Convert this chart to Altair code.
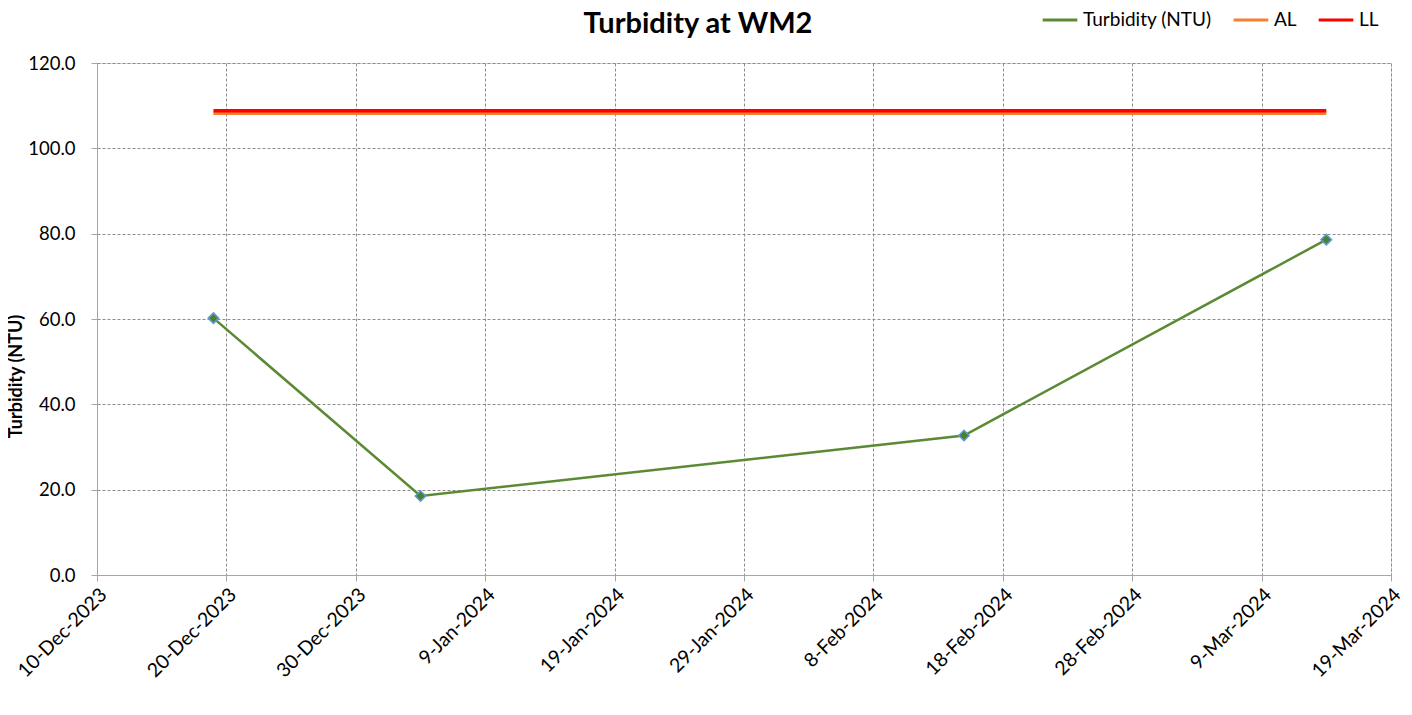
import altair as alt
import pandas as pd

# Data
dates = ["2023-12-19T00:00:00", "2024-01-04T00:00:00", "2024-02-15T00:00:00", "2024-03-14T00:00:00"]
turbidity = [60.2, 18.5, 32.7, 78.6]
limit_dates = ["2023-12-19T00:00:00", "2024-03-14T00:00:00"]
al_values = [108.2, 108.2]
ll_values = [108.8, 108.8]
tick_dates = [(2023, 12, 10), (2023, 12, 20), (2023, 12, 30), (2024, 1, 9), (2024, 1, 19),
              (2024, 1, 29), (2024, 2, 8), (2024, 2, 18), (2024, 2, 28), (2024, 3, 9), (2024, 3, 19)]
y_ticks = [0, 20, 40, 60, 80, 100, 120]
series_names = ["Turbidity (NTU)", "AL", "LL"]
series_colors = ["#5A8A34", "#F58030", "#FF0000"]

rows = []
for d, v in zip(dates, turbidity):
    rows.append({"date": d, "value": v, "series": "Turbidity (NTU)"})
for d, v in zip(limit_dates, al_values):
    rows.append({"date": d, "value": v, "series": "AL"})
for d, v in zip(limit_dates, ll_values):
    rows.append({"date": d, "value": v, "series": "LL"})
df = pd.DataFrame(rows)

FONT = "Lato"
tick_dt = [alt.DateTime(year=y, month=m, date=d) for (y, m, d) in tick_dates]

x_enc = alt.X(
    "date:T",
    scale=alt.Scale(domain=[tick_dt[0], tick_dt[-1]]),
    axis=alt.Axis(
        values=tick_dt, format="%-d-%b-%Y", labelAngle=-45, title=None,
        labelFontSize=19.5, labelFont=FONT, labelColor="#000000",
        grid=True, gridDash=[3, 2], gridColor="#8C8C8C",
        domainColor="#A6A6A6", tickColor="#A6A6A6", tickSize=6, labelPadding=4,
        labelOverlap=False,
    ),
)
y_enc = alt.Y(
    "value:Q",
    scale=alt.Scale(domain=[0, 120], nice=False),
    axis=alt.Axis(
        values=y_ticks, format=".1f", title="Turbidity (NTU)",
        titleFontSize=18, titleFont=FONT, titleFontWeight="bold", titleColor="#000000",
        titleX=-81, titleY=313, titleAngle=270, titleAlign="center", titleBaseline="middle",
        labelFontSize=18.5, labelFont=FONT, labelColor="#000000", labelPadding=16,
        grid=True, gridDash=[3, 2], gridColor="#8C8C8C",
        domainColor="#A6A6A6", tickColor="#A6A6A6", tickSize=6,
    ),
)
color_enc = alt.Color(
    "series:N",
    scale=alt.Scale(domain=series_names, range=series_colors),
    legend=alt.Legend(
        orient="none", legendX=944, legendY=-62, direction="horizontal", title=None,
        symbolType="stroke", symbolStrokeWidth=3, symbolSize=1200,
        labelFontSize=19, labelFont=FONT, labelColor="#000000", columnPadding=15,
    ),
)

base = alt.Chart(df)
lines = base.mark_line().encode(
    x=x_enc, y=y_enc, color=color_enc,
    strokeWidth=alt.condition(alt.datum.series == "Turbidity (NTU)", alt.value(2.5), alt.value(3.5)),
)
points = base.transform_filter(alt.datum.series == "Turbidity (NTU)").mark_point(
    shape="diamond", filled=True, size=110, fill="#4E7F2E", stroke="#5B9BD5", strokeWidth=1.5, opacity=1
).encode(x=alt.X("date:T"), y=alt.Y("value:Q"))

chart = (
    alt.layer(lines, points)
    .properties(
        width=1294, height=512,
        autosize=alt.AutoSizeParams(type="none"),
        padding={"left": 89, "top": 55, "right": 13, "bottom": 130},
        title=alt.TitleParams(
            "Turbidity at WM2", fontSize=29, font=FONT, fontWeight="bold", color="#000000",
            anchor="middle", dx=-46, offset=-38,
        ),
    )
    .configure_view(stroke=None)
    .configure(background="white")
)

chart.save("out.html", embed_options={"renderer": "svg", "actions": False})
